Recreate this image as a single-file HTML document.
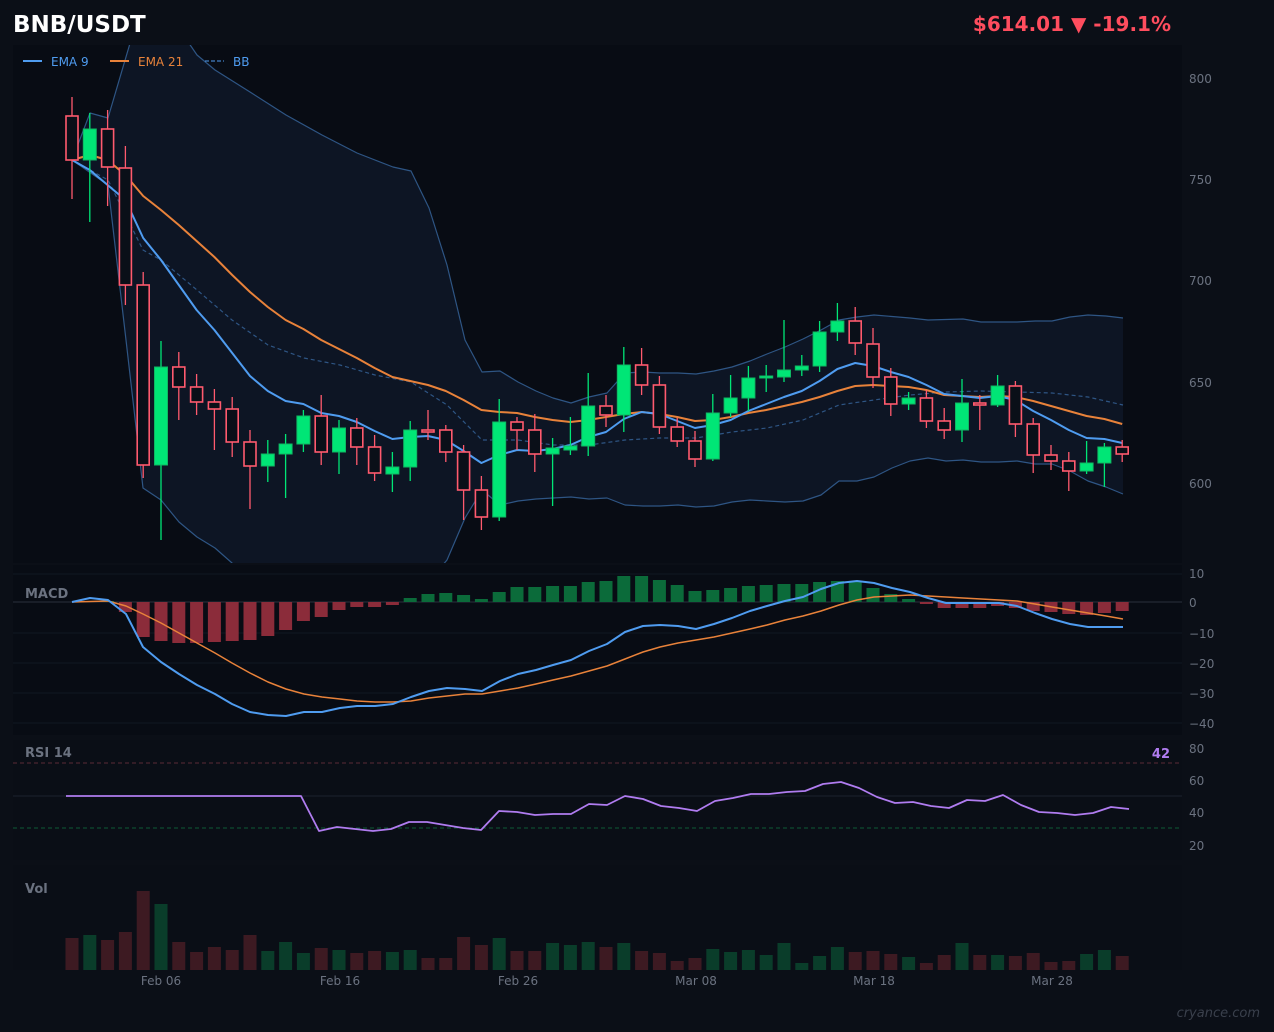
<!DOCTYPE html>
<html><head><meta charset="utf-8"><style>
html,body{margin:0;padding:0;background:#0b0f17;width:1274px;height:1032px;overflow:hidden;font-family:"DejaVu Sans","Liberation Sans",sans-serif}
svg{position:absolute;left:0;top:0}
</style></head><body>
<svg id="s" width="1274" height="1032" xmlns="http://www.w3.org/2000/svg" font-family="DejaVu Sans, Liberation Sans, sans-serif">
<rect x="0" y="0" width="1274" height="1032" fill="#0b0f17"/>
<rect x="13" y="45" width="1169" height="518" fill="#080c14"/>
<rect x="13" y="565" width="1169" height="170" fill="#080c14"/>
<rect x="13" y="740" width="1169" height="120" fill="#0a0e16"/>
<rect x="13" y="865" width="1169" height="105" fill="#0a0e16"/>
<g id="g"></g>
<text x="13" y="32" fill="#ffffff" font-size="23" font-weight="bold">BNB/USDT</text>
<text x="1171" y="31" fill="#ff4d5e" font-size="20" font-weight="bold" text-anchor="end">$614.01 ▼ -19.1%</text>
<line x1="23" y1="61" x2="42" y2="61" stroke="#4f9cf0" stroke-width="2"/>
<text x="51" y="66" fill="#4f9cf0" font-size="12">EMA 9</text>
<line x1="110" y1="61" x2="129" y2="61" stroke="#e8823a" stroke-width="2"/>
<text x="138" y="66" fill="#e8823a" font-size="12">EMA 21</text>
<line x1="205" y1="61" x2="224" y2="61" stroke="#4f9cf0" stroke-width="1" stroke-dasharray="4,2"/>
<text x="233" y="66" fill="#4f9cf0" font-size="12">BB</text>
<g fill="#6b7280" font-size="12">
<text x="1189" y="83">800</text><text x="1189" y="184">750</text><text x="1189" y="285">700</text><text x="1189" y="387">650</text><text x="1189" y="488">600</text>
<text x="1189" y="578">10</text><text x="1189" y="607">0</text><text x="1189" y="638">−10</text><text x="1189" y="668">−20</text><text x="1189" y="698">−30</text><text x="1189" y="728">−40</text>
<text x="1189" y="753">80</text><text x="1189" y="785">60</text><text x="1189" y="817">40</text><text x="1189" y="850">20</text>
<text x="161" y="985" text-anchor="middle">Feb 06</text><text x="340" y="985" text-anchor="middle">Feb 16</text><text x="518" y="985" text-anchor="middle">Feb 26</text><text x="696" y="985" text-anchor="middle">Mar 08</text><text x="874" y="985" text-anchor="middle">Mar 18</text><text x="1052" y="985" text-anchor="middle">Mar 28</text>
</g>
<text x="25" y="598" fill="#6b7280" font-size="13" font-weight="bold">MACD</text>
<text x="25" y="757" fill="#6b7280" font-size="13" font-weight="bold">RSI 14</text>
<text x="1170" y="758" fill="#b07cf0" font-size="13" font-weight="bold" text-anchor="end">42</text>
<text x="25" y="893" fill="#6b7280" font-size="13" font-weight="bold">Vol</text>
<text x="1260" y="1017" fill="#3a404c" font-size="13" font-style="italic" text-anchor="end">cryance.com</text>
</svg>
<script>
const g=document.getElementById('g');let h='';
const C=[[116,160,97,199,0],[129,160,113,222,1],[129,167,110,206,0],[168,285,146,305,0],[285,465,272,478,0],[367,465,341,540,1],[367,387,352,420,0],[387,402,374,415,0],[402,409,389,450,0],[409,442,397,457,0],[442,466,430,509,0],[454,466,440,482,1],[444,454,434,498,1],[416,444,410,452,1],[416,452,395,465,0],[428,452,420,474,1],[428,447,418,465,0],[447,473,435,481,0],[467,474,452,492,1],[430,467,421,481,1],[430,432,410,440,0],[430,452,425,462,0],[452,490,445,520,0],[490,517,476,530,0],[422,517,399,521,1],[422,430,417,450,0],[430,454,414,472,0],[448,454,438,506,1],[446,450,417,455,1],[406,446,373,456,1],[406,415,395,427,0],[365,415,347,432,1],[365,385,348,395,0],[385,427,376,434,0],[427,441,418,447,0],[441,459,431,467,0],[413,459,394,461,1],[398,413,375,417,1],[378,398,366,411,1],[376,378,365,392,1],[370,377,320,382,1],[366,370,355,376,1],[332,366,321,372,1],[321,332,303,341,1],[321,343,307,355,0],[344,377,328,388,0],[377,404,368,416,0],[398,404,392,410,1],[398,421,390,428,0],[421,430,408,439,0],[403,430,379,442,1],[403,405,395,430,0],[386,405,375,407,1],[386,424,381,437,0],[424,455,418,473,0],[455,461,445,470,0],[461,471,452,491,0],[463,471,441,474,1],[447,463,443,487,1],[447,454,440,462,0]];
const X=i=>72+i*17.8;
const P=a=>a.map(p=>p.join(',')).join(' ');
const pl=(pts,c,w,d)=>h+=`<polyline points="${P(pts)}" fill="none" stroke="${c}" stroke-width="${w}" ${d?'stroke-dasharray="'+d+'"':''} stroke-linejoin="round"/>`;
const up=[[72,160],[90,113],[108,118],[131,40],[150,25],[180,30],[197,55],[215,70],[250,92],[286,115],[322,135],[357,153],[393,167],[411,171],[429,208],[447,265],[465,340],[482,372],[500,371],[518,382],[536,391],[553,398],[571,403],[589,397],[607,393],[625,373],[643,372],[660,373],[678,373],[696,374],[714,371],[732,367],[750,361],[767,354],[785,347],[803,339],[821,330],[839,320],[857,317],[874,315],[910,318],[928,320],[963,319],[981,322],[1017,322],[1035,321],[1052,321],[1070,317],[1088,315],[1106,316],[1123,318]];
const lo=[[72,160],[108,185],[126,340],[143,488],[161,500],[179,522],[197,537],[215,548],[232,563],[250,580],[300,600],[400,600],[430,580],[447,560],[465,518],[482,490],[500,505],[518,501],[536,499],[553,498],[571,497],[589,499],[607,498],[625,505],[643,506],[660,506],[678,505],[696,507],[714,506],[732,502],[750,500],[767,501],[785,502],[803,501],[821,495],[839,481],[857,481],[874,477],[892,468],[910,461],[928,458],[946,461],[963,460],[981,462],[999,462],[1017,461],[1035,464],[1052,464],[1070,471],[1088,481],[1106,487],[1123,494]];
h+='<defs><clipPath id="cm"><rect x="13" y="45" width="1169" height="518"/></clipPath></defs><g clip-path="url(#cm)">';
h+=`<polygon points="${P(up)} ${P(lo.slice().reverse())}" fill="#0d1524"/>`;
pl(up,'#2e5584',1.2);pl(lo,'#2e5584',1.2);
pl([[72,160],[108,180],[143,250],[161,260],[197,290],[232,320],[268,345],[304,358],[340,365],[375,375],[411,382],[447,405],[482,440],[518,440],[553,445],[589,445],[625,440],[660,438],[696,438],[732,432],[767,428],[803,420],[839,405],[874,400],[910,395],[946,392],[981,391],[1017,392],[1052,393],[1088,397],[1123,405]],'#2e5584',1.2,'4,3');
const e9=[160,170,185,200,238,260,285,310,330,353,376,391,401,404,413,416,422,431,439,437,436,440,451,463,455,450,451,449,445,437,432,419,412,414,421,428,425,420,411,404,397,391,381,369,363,366,372,377,385,394,396,398,396,400,411,420,430,438,439,443];
const e21=[160,155,160,175,196,210,225,241,257,275,292,307,320,329,340,349,358,368,377,381,385,391,400,410,412,413,417,420,422,420,417,414,412,414,417,421,420,417,413,410,406,402,397,391,386,385,386,387,390,395,396,397,396,397,401,406,411,416,419,424];
pl(e21.map((y,i)=>[X(i),y]),'#e8823a',2);
pl(e9.map((y,i)=>[X(i),y]),'#4f9cf0',2);
C.forEach((c,i)=>{const x=X(i),col=c[4]?'#00e676':'#ff5a6e';
h+=`<line x1="${x}" y1="${c[2]}" x2="${x}" y2="${c[3]}" stroke="${col}" stroke-width="1.3"/>`;
const t=Math.min(c[0],c[1]),b=Math.max(c[0],c[1]);
h+=c[4]?`<rect x="${x-6.5}" y="${t}" width="13" height="${Math.max(b-t,2)}" fill="#00e676" stroke="#0fb863" stroke-width="1"/>`
:`<rect x="${x-6}" y="${t}" width="12" height="${Math.max(b-t,2)}" fill="#0a0f18" stroke="#ff5a6e" stroke-width="1.6"/>`;});
h+='</g>';
for(let y of [574,633,663,693,723])h+=`<line x1="13" y1="${y}" x2="1182" y2="${y}" stroke="#111722"/>`;
h+=`<line x1="13" y1="602" x2="1182" y2="602" stroke="#2a303c"/>`;
const hv=[602,602,601,612,637,641,643,643,642,641,640,636,630,621,617,610,607,607,605,598,594,593,595,599,592,587,587,586,586,582,581,576,576,580,585,591,590,588,586,585,584,584,582,581,582,588,594,599,604,608,608,608,606,608,611,612,614,615,613,611];
hv.forEach((y,i)=>{const x=X(i);if(Math.abs(y-602)<1)return;const t=Math.min(y,602),hh=Math.abs(y-602);
h+=`<rect x="${x-6.5}" y="${t}" width="13" height="${hh}" fill="${y<602?'#0b6b3a':'#8b2c3a'}"/>`;});
pl([[72,602],[108,601],[126,606],[143,614],[161,623],[179,633],[197,643],[215,653],[232,663],[250,673],[268,682],[286,689],[304,694],[322,697],[340,699],[357,701],[375,702],[393,702],[411,701],[429,698],[447,696],[465,694],[482,694],[500,691],[518,688],[536,684],[553,680],[571,676],[589,671],[607,666],[625,659],[643,652],[660,647],[678,643],[696,640],[714,637],[732,633],[750,629],[767,625],[785,620],[803,616],[821,611],[839,605],[857,600],[874,597],[892,596],[910,595],[928,596],[946,597],[963,598],[981,599],[999,600],[1017,601],[1035,604],[1052,607],[1070,610],[1088,613],[1106,616],[1123,619]],'#e8823a',1.5);
pl([[72,602],[90,598],[108,600],[126,614],[143,647],[161,662],[179,674],[197,685],[215,694],[232,704],[250,712],[268,715],[286,716],[304,712],[322,712],[340,708],[357,706],[375,706],[393,704],[411,697],[429,691],[447,688],[465,689],[482,691],[500,681],[518,674],[536,670],[553,665],[571,660],[589,651],[607,644],[625,632],[643,626],[660,625],[678,626],[696,629],[714,624],[732,618],[750,611],[767,606],[785,601],[803,597],[821,589],[839,583],[857,581],[874,583],[892,588],[910,592],[928,598],[946,603],[963,603],[981,603],[999,603],[1017,606],[1035,613],[1052,619],[1070,624],[1088,627],[1106,627],[1123,627]],'#4f9cf0',2);
h+=`<line x1="13" y1="763" x2="1182" y2="763" stroke="#5a2a35" stroke-dasharray="4,3"/><line x1="13" y1="828" x2="1182" y2="828" stroke="#0f5a35" stroke-dasharray="4,3"/><line x1="13" y1="796" x2="1182" y2="796" stroke="#1c222e"/>`;
pl([[66,796],[301,796],[319,831],[337,827],[355,829],[373,831],[391,829],[409,822],[427,822],[445,825],[463,828],[481,830],[499,811],[517,812],[535,815],[553,814],[571,814],[589,804],[607,805],[625,796],[643,799],[661,806],[679,808],[697,811],[715,801],[733,798],[751,794],[769,794],[787,792],[805,791],[823,784],[841,782],[859,788],[877,797],[895,803],[913,802],[931,806],[949,808],[967,800],[985,801],[1003,795],[1021,805],[1039,812],[1057,813],[1075,815],[1093,813],[1111,807],[1129,809]],'#b07cf0',1.8);
const vv=[938,935,940,932,891,904,942,952,947,950,935,951,942,953,948,950,953,951,952,950,958,958,937,945,938,951,951,943,945,942,947,943,951,953,961,958,949,952,950,955,943,963,956,947,952,951,954,957,963,955,943,955,955,956,953,962,961,954,950,956];
vv.forEach((y,i)=>{const x=X(i);h+=`<rect x="${x-6.5}" y="${y}" width="13" height="${970-y}" fill="${C[i][4]?'#0a3d2a':'#3d1a22'}"/>`;});
g.innerHTML=h;
</script>
</body></html>
